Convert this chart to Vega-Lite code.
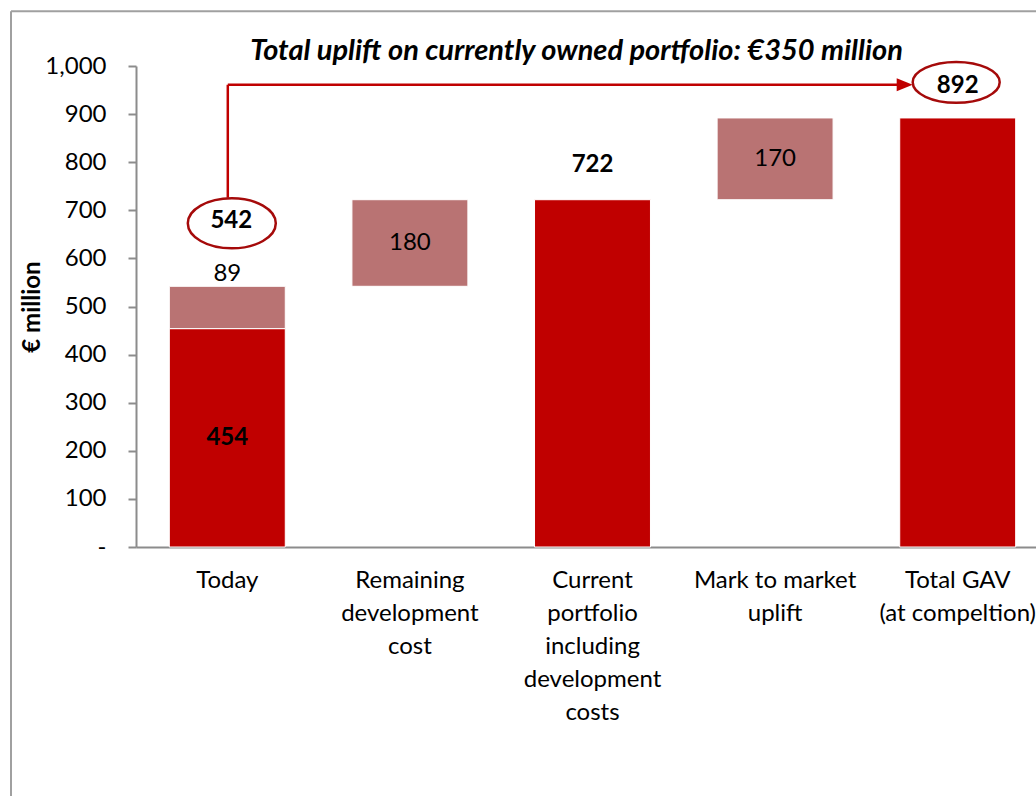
{
  "$schema": "https://vega.github.io/schema/vega-lite/v6.json",
  "autosize": "none",
  "width": 913,
  "height": 481,
  "padding": {"left": 136, "top": 66, "right": 0, "bottom": 249},
  "background": "white",
  "config": {
    "font": "Lato",
    "view": {"stroke": null},
    "axis": {"labelFont": "Lato", "titleFont": "Lato", "labelColor": "#000", "titleColor": "#000"}
  },
  "title": {
    "text": "Total uplift on currently owned portfolio: €350 million",
    "font": "Lato",
    "fontSize": 29,
    "fontStyle": "italic",
    "fontWeight": "bold",
    "color": "#000",
    "anchor": "middle",
    "dx": -16,
    "offset": -56
  },
  "datasets": {
    "bars": [
      {"category": "Today", "start": 0, "end": 454, "type": "base", "label": "454"},
      {"category": "Today", "start": 454, "end": 542, "type": "delta", "label": "89"},
      {"category": "Remaining|development|cost", "start": 542, "end": 722, "type": "delta", "label": "180"},
      {"category": "Current|portfolio|including|development|costs", "start": 0, "end": 722, "type": "base", "label": "722"},
      {"category": "Mark to market|uplift", "start": 722, "end": 892, "type": "delta", "label": "170"},
      {"category": "Total GAV|(at compeltion)", "start": 0, "end": 892, "type": "base", "label": ""}
    ],
    "arrow": [
      {"from": "Today", "to": "Total GAV|(at compeltion)", "fromTotal": "542", "toTotal": "892"}
    ]
  },
  "layer": [
    {
      "data": {"values": [{}]},
      "mark": {"type": "rule", "color": "#a0a0a0", "strokeWidth": 2},
      "encoding": {
        "x": {"value": -125},
        "x2": {"value": 913},
        "y": {"datum": 1114, "type": "quantitative"}
      }
    },
    {
      "data": {"values": [{}]},
      "mark": {"type": "rule", "color": "#a0a0a0", "strokeWidth": 2},
      "encoding": {
        "x": {"value": -125},
        "y": {"datum": 1114, "type": "quantitative"},
        "y2": {"datum": -600}
      }
    },
    {
      "data": {"name": "bars"},
      "mark": {"type": "bar", "stroke": "white", "strokeWidth": 1},
      "encoding": {
        "x": {
          "field": "category",
          "type": "nominal",
          "sort": null,
          "scale": {"paddingInner": 0.365, "paddingOuter": 0.1825},
          "axis": {
            "title": null,
            "labelExpr": "split(datum.label, '|')",
            "labelAngle": 0,
            "labelFontSize": 24,
            "labelLineHeight": 33,
            "labelPadding": 21,
            "labelBaseline": "top",
            "ticks": false,
            "domainColor": "#8c8c8c",
            "domainWidth": 2,
            "labelLimit": 300
          }
        },
        "y": {
          "field": "start",
          "type": "quantitative",
          "scale": {"domain": [0, 1000], "nice": false},
          "axis": {
            "title": "€ million",
            "titleFontSize": 24,
            "titleFontWeight": "bold",
            "titleX": -103.5,
            "titleY": 240.5,
            "titleAngle": -90,
            "titleBaseline": "middle",
            "titleAlign": "center",
            "values": [0, 100, 200, 300, 400, 500, 600, 700, 800, 900, 1000],
            "labelExpr": "datum.value == 0 ? '-\u00a0\u00a0' : format(datum.value, ',')",
            "labelFontSize": 24,
            "labelPadding": 22,
            "tickSize": 8,
            "tickColor": "#8c8c8c",
            "tickWidth": 2,
            "domainColor": "#8c8c8c",
            "domainWidth": 2,
            "grid": false
          }
        },
        "y2": {"field": "end"},
        "color": {
          "field": "type",
          "type": "nominal",
          "scale": {"domain": ["base", "delta"], "range": ["#C00000", "#B97373"]},
          "legend": null
        }
      }
    },
    {
      "data": {"name": "bars"},
      "transform": [
        {"filter": "datum.label == '180' || datum.label == '170'"},
        {"calculate": "(datum.start + datum.end) / 2", "as": "mid"}
      ],
      "mark": {"type": "text", "fontSize": 24, "color": "#000", "baseline": "middle"},
      "encoding": {
        "x": {"field": "category", "type": "nominal", "sort": null},
        "y": {"field": "mid", "type": "quantitative"},
        "text": {"field": "label"}
      }
    },
    {
      "data": {"name": "bars"},
      "transform": [
        {"filter": "datum.label == '454'"},
        {"calculate": "(datum.start + datum.end) / 2", "as": "mid"}
      ],
      "mark": {"type": "text", "fontSize": 24, "fontWeight": "bold", "color": "#000", "baseline": "middle"},
      "encoding": {
        "x": {"field": "category", "type": "nominal", "sort": null},
        "y": {"field": "mid", "type": "quantitative"},
        "text": {"field": "label"}
      }
    },
    {
      "data": {"name": "bars"},
      "transform": [{"filter": "datum.label == '89'"}],
      "mark": {"type": "text", "fontSize": 24, "color": "#000", "baseline": "middle", "dy": -12},
      "encoding": {
        "x": {"field": "category", "type": "nominal", "sort": null},
        "y": {"field": "end", "type": "quantitative"},
        "text": {"field": "label"}
      }
    },
    {
      "data": {"name": "bars"},
      "transform": [{"filter": "datum.label == '722'"}],
      "mark": {"type": "text", "fontSize": 24, "fontWeight": "bold", "color": "#000", "baseline": "middle", "dy": -35},
      "encoding": {
        "x": {"field": "category", "type": "nominal", "sort": null},
        "y": {"field": "end", "type": "quantitative"},
        "text": {"field": "label"}
      }
    },
    {
      "data": {"name": "arrow"},
      "mark": {"type": "rule", "color": "#C00000", "strokeWidth": 2.5, "xOffset": 0.5},
      "encoding": {
        "x": {"field": "from", "type": "nominal", "sort": null, "bandPosition": 0.5},
        "y": {"datum": 726, "type": "quantitative"},
        "y2": {"datum": 961}
      }
    },
    {
      "data": {"name": "arrow"},
      "mark": {"type": "rule", "color": "#C00000", "strokeWidth": 2.5, "xOffset": 0.5, "x2Offset": -58},
      "encoding": {
        "x": {"field": "from", "type": "nominal", "sort": null, "bandPosition": 0.5},
        "x2": {"field": "to", "bandPosition": 0.5},
        "y": {"datum": 961, "type": "quantitative"}
      }
    },
    {
      "data": {"name": "arrow"},
      "mark": {"type": "point", "shape": "M-1,-0.8L1,0L-1,0.8Z", "filled": true, "color": "#C00000", "opacity": 1, "size": 256, "xOffset": -53},
      "encoding": {
        "x": {"field": "to", "type": "nominal", "sort": null},
        "y": {"datum": 961, "type": "quantitative"}
      }
    },
    {
      "data": {"name": "arrow"},
      "mark": {"type": "point", "shape": "M-1,0A1,0.57 0 1,1 1,0A1,0.57 0 1,1 -1,0Z", "filled": false, "stroke": "#A50A0A", "strokeWidth": 2.5, "opacity": 1, "size": 7744, "xOffset": 4.5},
      "encoding": {
        "x": {"field": "from", "type": "nominal", "sort": null},
        "y": {"datum": 673, "type": "quantitative"}
      }
    },
    {
      "data": {"name": "arrow"},
      "mark": {"type": "point", "shape": "M-1,0A1,0.47 0 1,1 1,0A1,0.47 0 1,1 -1,0Z", "filled": false, "stroke": "#A50A0A", "strokeWidth": 2.5, "opacity": 1, "size": 7569, "xOffset": -1.5},
      "encoding": {
        "x": {"field": "to", "type": "nominal", "sort": null},
        "y": {"datum": 966, "type": "quantitative"}
      }
    },
    {
      "data": {"name": "arrow"},
      "mark": {"type": "text", "fontSize": 24, "fontWeight": "bold", "color": "#000", "baseline": "middle", "xOffset": 4},
      "encoding": {
        "x": {"field": "from", "type": "nominal", "sort": null},
        "y": {"datum": 677, "type": "quantitative"},
        "text": {"field": "fromTotal"}
      }
    },
    {
      "data": {"name": "arrow"},
      "mark": {"type": "text", "fontSize": 24, "fontWeight": "bold", "color": "#000", "baseline": "middle"},
      "encoding": {
        "x": {"field": "to", "type": "nominal", "sort": null},
        "y": {"datum": 959, "type": "quantitative"},
        "text": {"field": "toTotal"}
      }
    }
  ]
}
